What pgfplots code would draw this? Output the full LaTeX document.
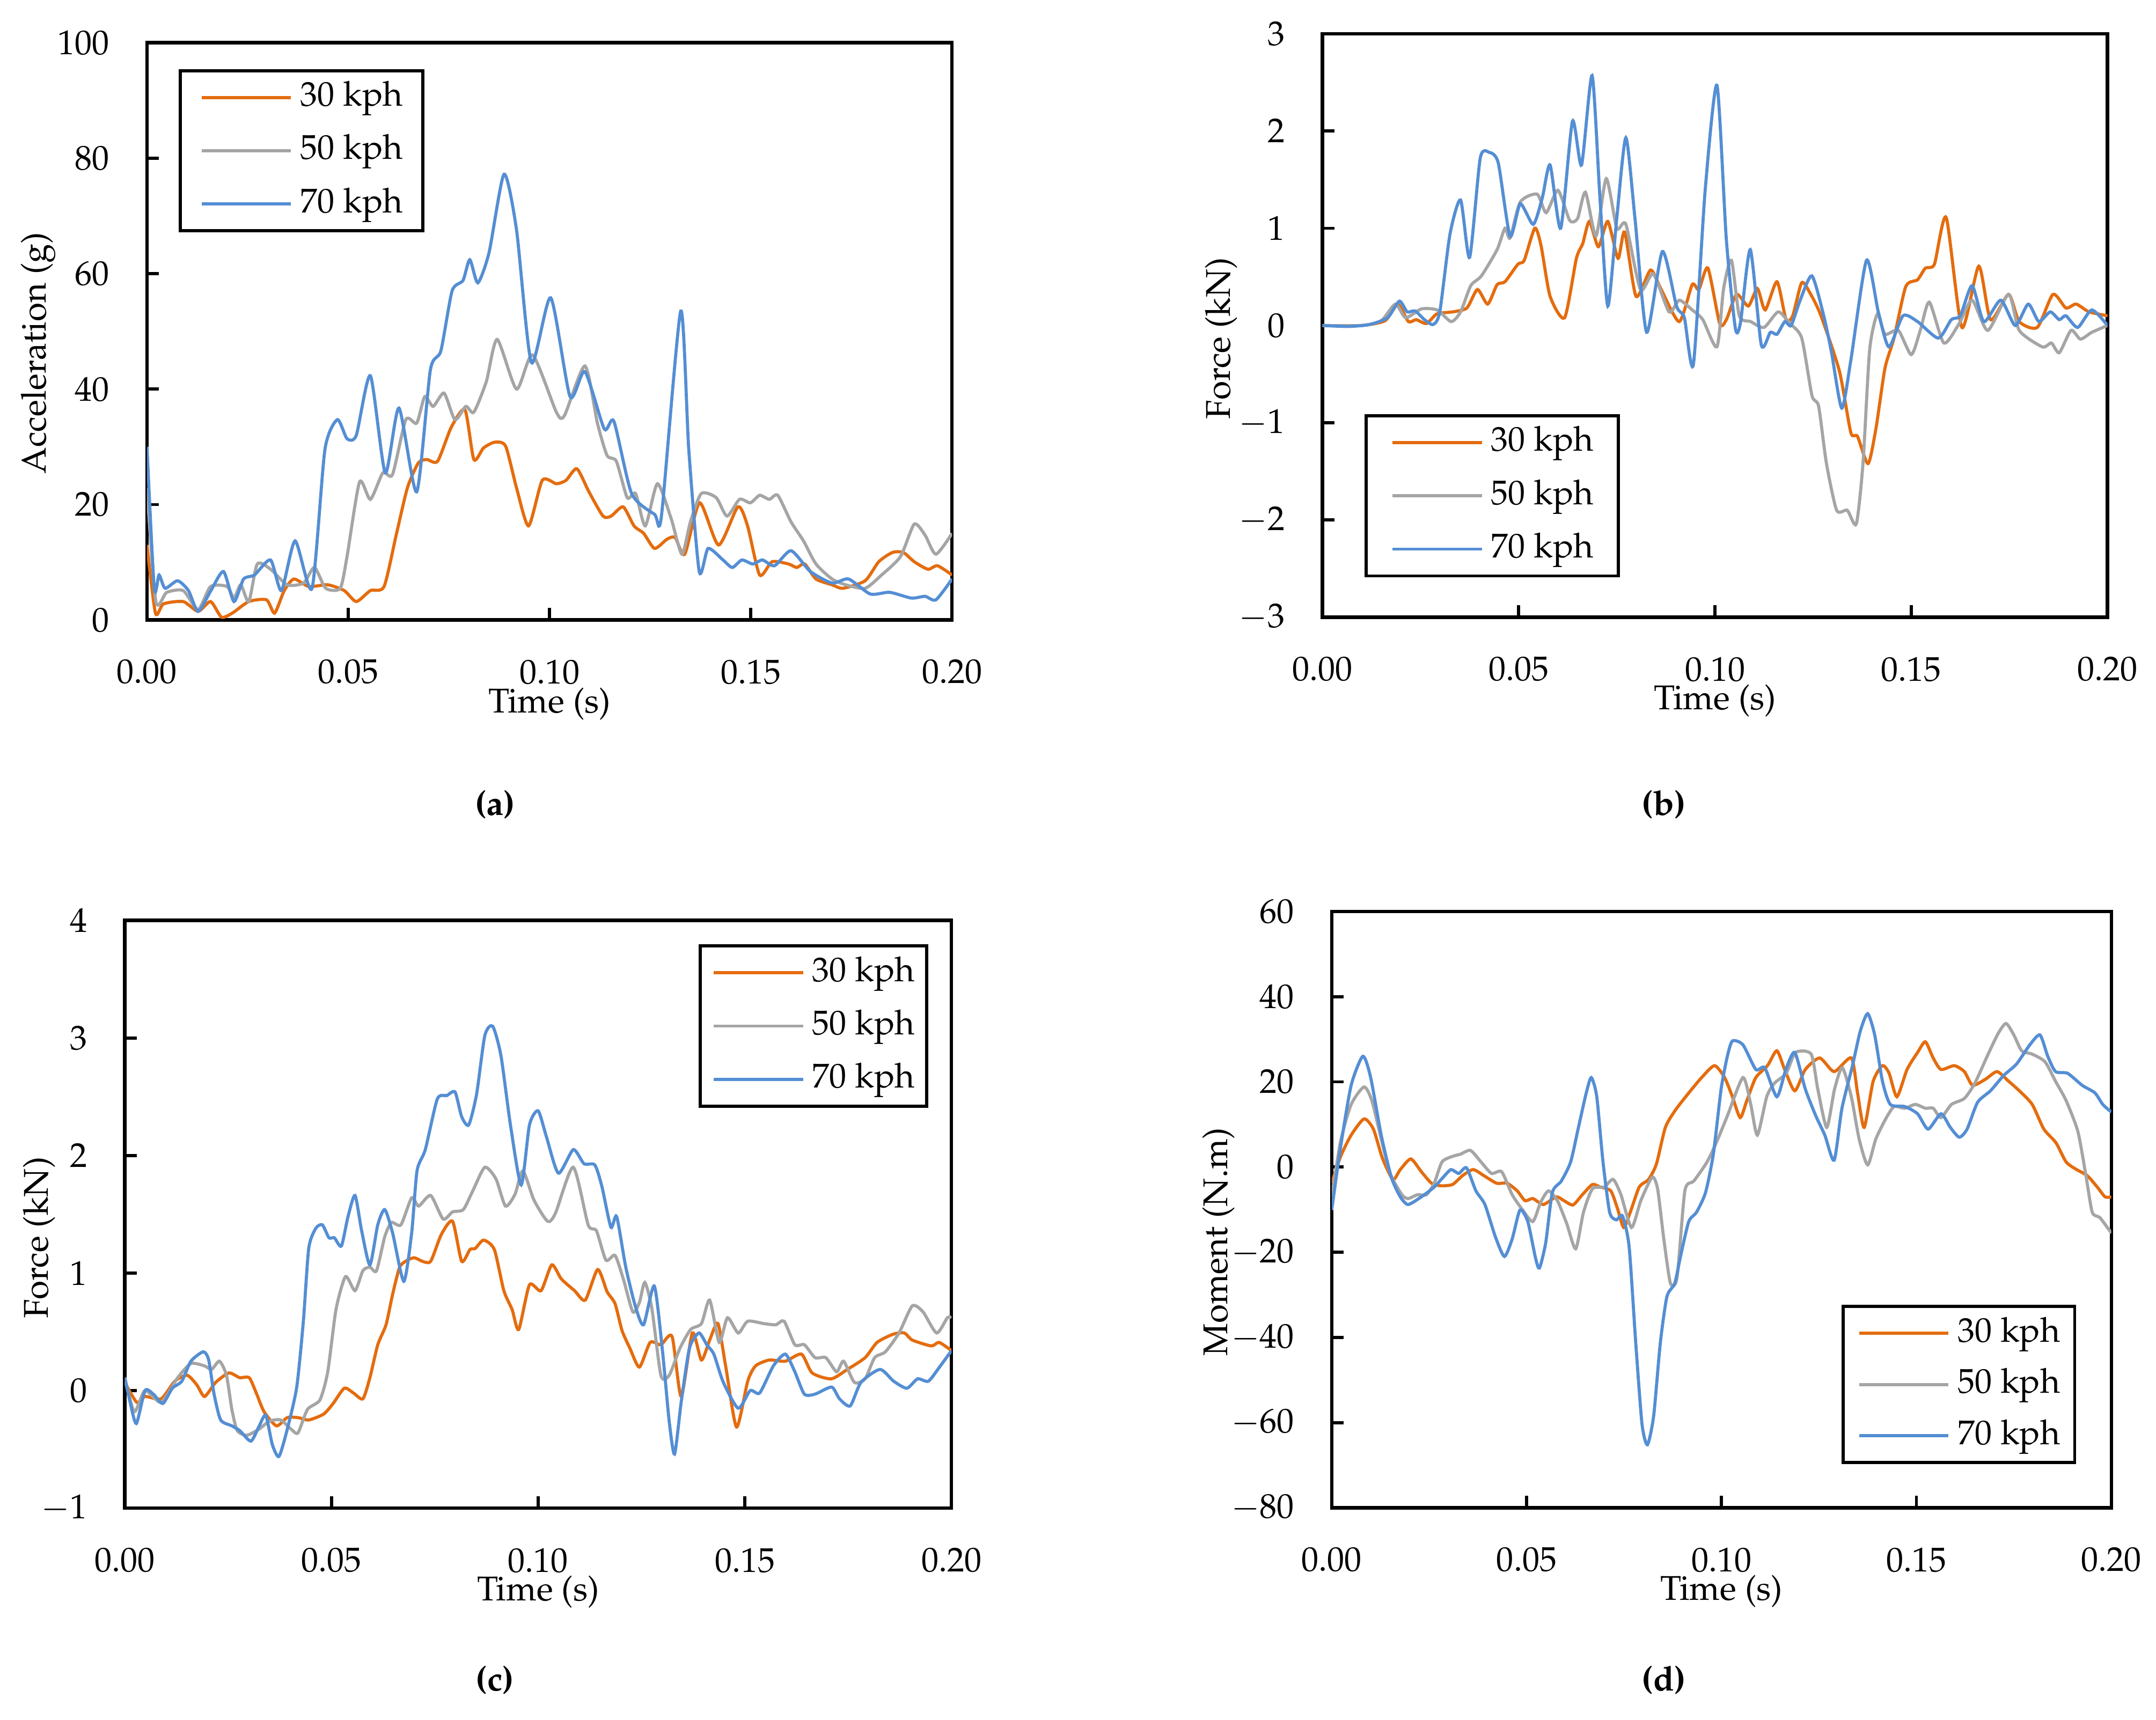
\documentclass[border=0pt]{standalone}
\usepackage[T1]{fontenc}
\usepackage{mathpazo}
\usepackage{pgfplots}
\pgfplotsset{compat=1.18}
\definecolor{c30}{RGB}{228,108,14}
\definecolor{c50}{RGB}{165,165,165}
\definecolor{c70}{RGB}{84,142,212}

\pgfplotstableread{
t v
0 13
0.0021 1.2
0.0041 2.8
0.009 3.2
0.0127 1.5
0.0158 3.2
0.0185 0.5
0.0212 1.2
0.0253 3.2
0.0297 3.5
0.0317 1.2
0.0341 5.1
0.0365 7.1
0.0402 5.8
0.0449 6.1
0.049 5.1
0.052 3.2
0.0555 5.1
0.0589 5.8
0.062 15
0.0647 22.9
0.0674 27.2
0.0695 27.8
0.0722 27.5
0.0756 33.4
0.079 36.4
0.0812 27.8
0.0836 29.8
0.0864 30.8
0.0891 30.1
0.0918 22.9
0.0948 16.3
0.0982 24.2
0.1017 23.6
0.1041 24.2
0.1068 26.2
0.1098 22.2
0.1133 18
0.1153 18
0.1183 19.6
0.121 16.3
0.1234 15
0.1261 12.4
0.1292 14
0.1312 14.3
0.1336 11.4
0.1373 20.3
0.142 13
0.1468 19.6
0.1492 16.3
0.1522 7.8
0.1553 10.1
0.1594 9.7
0.1614 9.1
0.1634 9.7
0.1662 7.1
0.1702 6.1
0.1729 5.5
0.1784 6.8
0.1818 10.1
0.1852 11.7
0.1879 11.7
0.1906 10.1
0.194 8.8
0.1964 9.4
0.2 7.8
}\aA
\pgfplotstableread{
t v
0 22.9
0.0022 3.2
0.0049 4.8
0.009 5.1
0.0127 1.8
0.0158 5.8
0.0199 5.8
0.0216 3.8
0.0233 6.1
0.0253 3.2
0.0274 9.7
0.0307 8.8
0.0348 6.1
0.0389 6.4
0.0416 9.1
0.0444 5.5
0.048 5.5
0.0497 11
0.0528 23.9
0.0555 20.9
0.0586 25.5
0.061 25.2
0.0643 34.7
0.067 34.1
0.069 38.7
0.0711 37
0.0738 39.3
0.0765 34.7
0.0792 37
0.0812 36
0.0843 41.3
0.087 48.6
0.0918 40
0.0958 45.9
0.1017 36
0.1037 35.4
0.1088 44
0.1119 34.1
0.1143 28.5
0.1166 27.5
0.1193 21.2
0.1214 21.9
0.1238 16.3
0.1268 23.6
0.1302 17.6
0.1329 11.4
0.135 17
0.1377 21.9
0.1414 21.2
0.1441 18
0.1472 20.9
0.1499 20.3
0.1522 21.6
0.1546 20.9
0.1567 21.6
0.16 17
0.1631 13.7
0.1662 9.7
0.1702 7.1
0.1736 6.1
0.1784 5.5
0.1825 7.8
0.1872 11
0.1906 16.6
0.1933 14.7
0.196 11.4
0.2 15
}\aB
\pgfplotstableread{
t v
0 30
0.0018 5.5
0.003 7.8
0.0045 5.5
0.0076 6.8
0.0103 5.1
0.0127 1.5
0.0158 5
0.019 8.4
0.0216 3.2
0.024 7.1
0.0267 7.8
0.0307 10.4
0.0334 5.1
0.0368 13.7
0.041 5.5
0.0442 29.5
0.0473 34.7
0.0497 31.4
0.052 32
0.0555 42.3
0.0592 25.5
0.0626 36.7
0.067 22.2
0.0704 43.3
0.073 46.6
0.0758 57
0.0785 58.8
0.0802 62.4
0.0822 58.4
0.085 63.7
0.0887 77.2
0.0918 67.6
0.0955 44.6
0.1003 55.8
0.1051 38.7
0.1088 43
0.1136 33.1
0.116 34.4
0.1204 21.9
0.1261 18.3
0.1278 18
0.1326 53.5
0.1346 29.5
0.1372 8.4
0.1394 12.4
0.1431 10.4
0.1454 9.1
0.1478 10.4
0.1505 9.7
0.1529 10.4
0.1559 9.4
0.16 12
0.1648 8.4
0.1702 6.4
0.1743 7.1
0.1797 4.5
0.1845 4.8
0.1899 3.8
0.1933 4.1
0.196 3.5
0.2 7.1
}\aC

\pgfplotstableread{
t v
0 0
0.01 0
0.016 0.05
0.0192 0.22
0.0219 0.04
0.0239 0.06
0.0265 0.02
0.0292 0.12
0.0332 0.14
0.0368 0.18
0.0395 0.37
0.0421 0.22
0.0445 0.42
0.0465 0.45
0.0498 0.63
0.0514 0.67
0.0541 1.0
0.0557 0.82
0.058 0.3
0.0617 0.08
0.0647 0.69
0.0663 0.84
0.068 1.07
0.0703 0.81
0.0727 1.07
0.0753 0.69
0.077 0.96
0.0799 0.3
0.0836 0.57
0.0863 0.37
0.0909 0.04
0.0942 0.42
0.0959 0.37
0.0982 0.59
0.1012 0.02
0.1029 0.06
0.1055 0.32
0.1085 0.2
0.1108 0.38
0.1128 0.16
0.1158 0.45
0.1181 0.06
0.1198 0.1
0.1221 0.44
0.1244 0.32
0.127 0.1
0.1317 -0.47
0.1346 -1.1
0.1363 -1.14
0.139 -1.42
0.141 -1.06
0.1433 -0.44
0.1456 -0.13
0.1486 0.4
0.1516 0.47
0.1536 0.59
0.1559 0.63
0.1589 1.11
0.1629 -0.02
0.1672 0.61
0.1702 0.06
0.1748 0.32
0.1775 0.04
0.1821 -0.02
0.1861 0.32
0.1894 0.18
0.192 0.22
0.1953 0.14
0.2 0.1
}\bA
\pgfplotstableread{
t v
0 0
0.01 0
0.015 0.05
0.0186 0.22
0.0212 0.08
0.0252 0.17
0.0292 0.16
0.0328 0.04
0.0352 0.14
0.0378 0.41
0.0405 0.51
0.0445 0.78
0.0465 1.0
0.0478 0.9
0.0504 1.27
0.0547 1.35
0.057 1.16
0.06 1.39
0.063 1.08
0.065 1.1
0.067 1.37
0.0697 0.92
0.0723 1.51
0.075 1.0
0.0773 1.04
0.081 0.37
0.0843 0.53
0.0883 0.14
0.0909 0.26
0.0942 0.16
0.0969 0.06
0.1005 -0.22
0.1022 0.38
0.1042 0.67
0.1062 0.1
0.1091 0.04
0.1125 -0.02
0.1161 0.14
0.1191 0.02
0.1221 -0.13
0.1247 -0.72
0.1264 -0.83
0.1284 -1.42
0.131 -1.9
0.1337 -1.9
0.136 -2.04
0.1377 -1.42
0.1394 -0.25
0.1414 0.12
0.1433 -0.09
0.1467 -0.05
0.15 -0.3
0.1523 -0.05
0.1546 0.24
0.1583 -0.18
0.1622 0.02
0.1655 0.26
0.1695 -0.05
0.1748 0.32
0.1775 -0.05
0.1834 -0.22
0.1857 -0.18
0.1877 -0.28
0.1907 -0.05
0.1931 -0.14
0.196 -0.07
0.2 0
}\bB
\pgfplotstableread{
t v
0 0
0.0066 -0.01
0.012 0.01
0.0166 0.08
0.0196 0.25
0.0216 0.14
0.0236 0.15
0.026 0.06
0.0282 0.01
0.0299 0.14
0.0325 0.94
0.0352 1.29
0.0375 0.7
0.0402 1.72
0.0425 1.78
0.0448 1.67
0.0478 0.92
0.0504 1.25
0.0537 1.04
0.056 1.31
0.058 1.65
0.0607 1.0
0.0637 2.1
0.066 1.65
0.0687 2.57
0.0707 1.31
0.0727 0.2
0.075 1.11
0.0773 1.93
0.0796 1.11
0.0826 -0.07
0.0866 0.76
0.0902 0.2
0.0922 0.08
0.0945 -0.4
0.0975 1.39
0.1005 2.47
0.1029 0.88
0.1052 -0.03
0.1065 0.03
0.109 0.78
0.1118 -0.2
0.1141 -0.07
0.1158 -0.09
0.1178 0.04
0.1194 0
0.1217 0.26
0.1247 0.51
0.1277 0.1
0.1297 -0.28
0.1323 -0.85
0.1346 -0.36
0.1386 0.67
0.1416 0.14
0.1443 -0.22
0.1479 0.1
0.1516 0.04
0.1569 -0.13
0.1602 0.06
0.1625 0.1
0.1655 0.41
0.1685 0.04
0.1728 0.26
0.1765 0
0.1798 0.22
0.1825 0.04
0.1854 0.14
0.1877 0.06
0.1894 0.1
0.1924 -0.02
0.196 0.16
0.2 0
}\bC

\pgfplotstableread{
t v
0 0.07
0.0029 -0.1
0.0049 -0.05
0.0088 -0.07
0.0121 0.08
0.0151 0.13
0.0174 0.05
0.0193 -0.05
0.022 0.07
0.0252 0.15
0.0278 0.11
0.0301 0.11
0.0318 -0.02
0.0337 -0.18
0.0367 -0.3
0.0393 -0.23
0.0419 -0.23
0.0445 -0.25
0.0481 -0.2
0.0504 -0.11
0.0531 0.02
0.0553 -0.02
0.0576 -0.07
0.0593 0.11
0.0612 0.39
0.0632 0.56
0.0648 0.82
0.0665 1.05
0.0684 1.11
0.0701 1.13
0.072 1.1
0.074 1.1
0.0766 1.33
0.0793 1.44
0.0815 1.1
0.0835 1.2
0.0848 1.21
0.0868 1.28
0.0894 1.2
0.0917 0.85
0.0937 0.69
0.0953 0.52
0.0979 0.9
0.1007 0.85
0.1033 1.07
0.1056 0.95
0.1088 0.85
0.1114 0.77
0.1144 1.03
0.1167 0.84
0.1186 0.74
0.1203 0.51
0.1222 0.36
0.1245 0.2
0.1271 0.41
0.1297 0.39
0.1324 0.46
0.1346 -0.05
0.1373 0.49
0.1395 0.26
0.1415 0.43
0.1435 0.57
0.1454 0.2
0.148 -0.31
0.1507 0.08
0.1526 0.21
0.1559 0.26
0.1598 0.25
0.1637 0.31
0.1663 0.15
0.1709 0.1
0.1748 0.18
0.1791 0.28
0.182 0.41
0.1859 0.48
0.1886 0.49
0.1905 0.43
0.1951 0.38
0.197 0.41
0.2 0.34
}\cA
\pgfplotstableread{
t v
0 0.11
0.0023 -0.18
0.0049 0
0.0088 -0.1
0.0128 0.11
0.016 0.23
0.0193 0.21
0.021 0.18
0.0229 0.25
0.0246 0.13
0.0259 -0.16
0.0272 -0.34
0.0295 -0.38
0.0324 -0.33
0.035 -0.26
0.0377 -0.25
0.0403 -0.33
0.0419 -0.36
0.0442 -0.16
0.0472 -0.08
0.0491 0.16
0.0511 0.69
0.0534 0.97
0.0557 0.85
0.0576 1.02
0.0593 1.05
0.0609 1.02
0.0629 1.31
0.0645 1.43
0.0668 1.41
0.0694 1.64
0.0711 1.57
0.074 1.66
0.077 1.46
0.0793 1.52
0.0819 1.54
0.0842 1.7
0.0871 1.9
0.0898 1.8
0.0921 1.57
0.0944 1.67
0.0963 1.87
0.099 1.62
0.1023 1.44
0.1042 1.51
0.1085 1.9
0.1121 1.41
0.1141 1.36
0.1164 1.11
0.1186 1.15
0.1206 0.95
0.1229 0.67
0.1245 0.75
0.1258 0.92
0.1275 0.7
0.1297 0.13
0.1317 0.13
0.1343 0.36
0.1369 0.52
0.1395 0.57
0.1415 0.77
0.1438 0.41
0.1458 0.62
0.1484 0.49
0.1507 0.59
0.1546 0.57
0.1575 0.56
0.1595 0.59
0.1621 0.39
0.1644 0.39
0.167 0.28
0.1696 0.28
0.1722 0.16
0.1739 0.25
0.1765 0.07
0.1791 0.1
0.1814 0.28
0.184 0.33
0.1873 0.49
0.1905 0.72
0.1931 0.67
0.1964 0.49
0.199 0.62
0.2 0.62
}\cB
\pgfplotstableread{
t v
0 0.11
0.0013 -0.1
0.0028 -0.28
0.0049 0
0.0069 -0.03
0.0092 -0.11
0.0115 0.02
0.0138 0.08
0.016 0.25
0.019 0.33
0.0203 0.26
0.0216 -0.03
0.0232 -0.25
0.0259 -0.3
0.0278 -0.34
0.0305 -0.43
0.0324 -0.31
0.0341 -0.21
0.0357 -0.46
0.0373 -0.56
0.0393 -0.33
0.0416 0.03
0.0432 0.59
0.0445 1.21
0.0462 1.38
0.0478 1.41
0.0494 1.3
0.0507 1.3
0.0524 1.23
0.054 1.48
0.0557 1.66
0.0573 1.36
0.0593 1.07
0.0612 1.41
0.0629 1.54
0.0648 1.34
0.0675 0.93
0.0694 1.34
0.0707 1.87
0.0727 2.05
0.0756 2.48
0.0779 2.51
0.0799 2.54
0.0815 2.33
0.0832 2.26
0.0851 2.52
0.0871 3.02
0.089 3.1
0.091 2.85
0.0933 2.26
0.0959 1.75
0.0979 2.26
0.1 2.38
0.102 2.16
0.1049 1.85
0.1085 2.05
0.1111 1.93
0.1137 1.92
0.1154 1.74
0.1176 1.39
0.119 1.48
0.1212 1.05
0.1235 0.72
0.1255 0.56
0.1281 0.89
0.1301 0.33
0.1317 -0.26
0.133 -0.54
0.1346 -0.1
0.1366 0.36
0.1389 0.49
0.1408 0.39
0.1425 0.31
0.1448 0.07
0.1484 -0.15
0.1513 0
0.1536 -0.02
0.1569 0.21
0.1598 0.31
0.1621 0.16
0.1644 -0.03
0.167 -0.03
0.171 0.03
0.1729 -0.07
0.1755 -0.13
0.1781 0.07
0.1827 0.18
0.186 0.08
0.1892 0.02
0.1918 0.1
0.1944 0.08
0.1971 0.2
0.2 0.34
}\cC

\pgfplotstableread{
t v
0 -3.8
0.0023 2.5
0.005 7.5
0.0083 11.3
0.0107 8.9
0.013 2.1
0.0157 -2.9
0.0176 -0.6
0.0203 1.9
0.023 -1.1
0.0256 -3.8
0.028 -4.4
0.031 -4.1
0.0336 -2
0.0363 -0.6
0.039 -2
0.0423 -3.8
0.045 -3.8
0.0476 -5.6
0.0496 -7.9
0.0516 -7.4
0.0543 -8.8
0.0576 -7
0.0596 -7.9
0.0619 -8.9
0.0643 -6.5
0.0669 -4.1
0.0689 -4.7
0.0716 -5.6
0.0733 -9.7
0.0749 -14.2
0.0766 -10.6
0.0789 -4.7
0.0813 -2.9
0.0833 0.7
0.0856 9.3
0.0882 13.4
0.0916 17.4
0.0949 21
0.0982 23.8
0.1008 21
0.1028 16.5
0.1048 11.6
0.1065 15.6
0.1088 21
0.1118 23.8
0.1142 27.3
0.1162 22.9
0.1188 17.9
0.1215 22.9
0.1252 25.6
0.1289 22.4
0.1333 25.6
0.1349 17.4
0.1366 9.3
0.1389 20.1
0.1413 23.8
0.143 22
0.145 16.5
0.1476 22.9
0.1503 26.9
0.1523 29.4
0.1543 25.6
0.1563 22.9
0.1597 23.8
0.1623 22.4
0.1644 19.2
0.1677 20.6
0.1707 22.4
0.1737 20.1
0.1764 17.9
0.1797 14.7
0.1827 8.9
0.1858 5.7
0.1884 1.2
0.1911 -0.6
0.1938 -2
0.1964 -4.7
0.1984 -7
0.2 -7
}\dA
\pgfplotstableread{
t v
0 -7
0.0023 6.1
0.005 14.7
0.0083 18.8
0.0103 15.6
0.0127 6.6
0.015 -1.5
0.018 -6.5
0.0196 -7.4
0.022 -6.5
0.0243 -6.5
0.0263 -3.8
0.0283 1.2
0.031 2.5
0.033 3
0.0356 3.9
0.0383 1.2
0.041 -1.5
0.0436 -1.1
0.0463 -6.5
0.049 -10.1
0.0516 -12.8
0.0536 -8.3
0.0556 -5.6
0.0579 -7.9
0.0603 -13.3
0.0626 -19.2
0.0646 -10.6
0.0669 -5.1
0.0699 -4.7
0.0722 -2.9
0.0742 -6.5
0.0769 -14.2
0.0793 -7.9
0.0822 -2.4
0.0836 -5.1
0.0852 -16.9
0.0869 -27.3
0.0886 -25.9
0.0906 -5.6
0.0929 -3.3
0.0963 1.2
0.0988 6
0.1015 12
0.1055 21
0.1075 14.7
0.1092 7.5
0.1116 16.5
0.1136 19.7
0.1166 22
0.119 26.9
0.123 26.5
0.1247 18.3
0.127 9.3
0.129 18.3
0.131 23.3
0.1333 16.5
0.1353 6.6
0.1375 0.5
0.1396 6.6
0.1423 11.6
0.1443 14.2
0.147 13.8
0.1497 14.7
0.1523 13.8
0.1543 13.8
0.1563 11.6
0.159 14.7
0.1623 16.1
0.165 19.7
0.1684 26.5
0.171 31.4
0.173 33.7
0.175 31
0.177 27.3
0.1797 26.5
0.183 24.7
0.1857 20.1
0.1884 15.6
0.1914 8.4
0.1934 -1.5
0.1951 -10.6
0.1971 -11.9
0.2 -15.5
}\dB
\pgfplotstableread{
t v
0 -10.1
0.0023 4.8
0.005 19.2
0.008 26
0.01 21
0.0127 7.5
0.0153 -2.4
0.0176 -7
0.0196 -8.8
0.023 -7
0.0263 -4.7
0.0286 -2.4
0.0306 -0.6
0.0326 -1.5
0.0346 -0.2
0.037 -5.6
0.0393 -8.8
0.042 -16.4
0.0443 -21
0.0463 -16.9
0.0483 -10.1
0.0503 -12.8
0.0523 -21.4
0.0533 -23.7
0.0549 -17.8
0.0566 -6
0.0589 -3.3
0.0613 1.2
0.0633 9.3
0.0653 17.4
0.0666 21
0.068 16.5
0.0696 1.2
0.0713 -10.6
0.073 -12.4
0.0746 -11.5
0.0763 -18.7
0.078 -41.3
0.0796 -60.3
0.081 -65.2
0.0826 -58.4
0.0843 -41.3
0.086 -30.4
0.088 -27.3
0.0896 -20.5
0.0916 -12.8
0.0936 -10.6
0.0959 -6
0.0979 3
0.0999 18.3
0.1015 26
0.1028 29.6
0.1055 28.7
0.1088 22.9
0.1111 23.3
0.1142 16.5
0.1165 22.9
0.1188 26.9
0.1215 18.3
0.1242 12
0.1265 7.5
0.1289 1.6
0.1309 13.8
0.1336 23.8
0.1356 31.9
0.1375 36
0.1393 31
0.1413 20.1
0.1433 14.7
0.147 14.2
0.1503 12.5
0.153 8.9
0.1563 12.5
0.1587 9.3
0.161 7
0.163 8.9
0.1657 15.2
0.169 17.9
0.1724 21.5
0.1757 24.2
0.1791 28.7
0.1817 31
0.1837 26
0.1857 22.4
0.1888 22
0.1925 19.2
0.1958 17.4
0.1978 14.7
0.2 12.9
}\dC

\pgfplotsset{
  panel/.style={
    scale only axis,
    anchor=south west,
    xmin=0, xmax=0.2,
    xtick={0,0.05,0.1,0.15,0.2},
    axis line style={line width=1pt},
    tick align=inside,
    xtick pos=bottom,
    ytick pos=left,
    major tick length=3.5pt,
    every tick/.style={black, line width=0.9pt},
    tick label style={font=\fontsize{10}{12}\selectfont},
    label style={font=\fontsize{10}{12}\selectfont},
    scaled x ticks=false,
    xticklabel style={/pgf/number format/fixed, /pgf/number format/fixed zerofill, /pgf/number format/precision=2, yshift=-8.1pt},
    yticklabel style={xshift=-7.4pt},
    xlabel={Time (s)},
    xlabel style={at={(axis description cs:0.5,0)}, anchor=base, yshift=-26.9pt},
    legend cell align=left,
    legend image code/.code={\draw[#1] (0pt,0pt) -- (26pt,0pt);},
    legend style={draw=black, line width=0.9pt, fill=white,
      font=\fontsize{10}{12}\selectfont, inner ysep=3.3pt, row sep=6.5pt,
      /tikz/column sep=2.2pt,
      nodes={inner sep=0pt, text height=7pt, text depth=2pt}},
    every axis plot/.append style={line width=0.9pt, smooth, tension=0.4},
  },
}

\begin{document}
\begin{tikzpicture}
\useasboundingbox (0,0) rectangle (627.2pt,-500.4pt);

% (a)
\begin{axis}[panel, at={(42.76pt,-180.4pt)}, width=234.2pt, height=168.0pt,
  ymin=0, ymax=100, ytick={0,20,40,60,80,100},
  ylabel={Acceleration (g)},
  ylabel style={at={(axis description cs:-0.1255,0.462)}, anchor=base},
  legend style={at={(rel axis cs:0,1)}, anchor=north west, xshift=9.2pt, yshift=-7.7pt, inner xsep=5.8pt}]
\addplot[c30] table[x=t,y=v]{\aA};
\addplot[c50] table[x=t,y=v]{\aB};
\addplot[c70] table[x=t,y=v]{\aC};
\legend{30 kph,50 kph,70 kph}
\end{axis}

% (b)
\begin{axis}[panel, at={(384.7pt,-179.6pt)}, width=228.4pt, height=169.8pt,
  ymin=-3, ymax=3, ytick={-3,-2,-1,0,1,2,3},
  ylabel={Force (kN)},
  ylabel style={at={(axis description cs:-0.1173,0.478)}, anchor=base},
  legend style={at={(rel axis cs:0,1)}, anchor=north west, xshift=12.3pt, yshift=-110.7pt, inner xsep=7.2pt}]
\addplot[c30] table[x=t,y=v]{\bA};
\addplot[c50] table[x=t,y=v]{\bB};
\addplot[c70] table[x=t,y=v]{\bC};
\legend{30 kph,50 kph,70 kph}
\end{axis}

% (c)
\begin{axis}[panel, at={(36.3pt,-438.8pt)}, width=240.5pt, height=171.0pt,
  ymin=-1, ymax=4, ytick={-1,0,1,2,3,4},
  ylabel={Force (kN)},
  ylabel style={at={(axis description cs:-0.0931,0.46)}, anchor=base},
  legend style={at={(rel axis cs:1,1)}, anchor=north east, xshift=-6.8pt, yshift=-7pt, inner xsep=3.4pt}]
\addplot[c30] table[x=t,y=v]{\cA};
\addplot[c50] table[x=t,y=v]{\cB};
\addplot[c70] table[x=t,y=v]{\cC};
\legend{30 kph,50 kph,70 kph}
\end{axis}

% (d)
\begin{axis}[panel, at={(387.4pt,-438.7pt)}, width=226.8pt, height=173.5pt,
  ymin=-80, ymax=60, ytick={-80,-60,-40,-20,0,20,40,60},
  ylabel={Moment (N.m)},
  ylabel style={at={(axis description cs:-0.134,0.446)}, anchor=base},
  legend style={at={(rel axis cs:1,1)}, anchor=north east, xshift=-10.2pt, yshift=-114.5pt, inner xsep=4.2pt, row sep=5.9pt}]
\addplot[c30] table[x=t,y=v]{\dA};
\addplot[c50] table[x=t,y=v]{\dB};
\addplot[c70] table[x=t,y=v]{\dC};
\legend{30 kph,50 kph,70 kph}
\end{axis}

\node[font=\bfseries\fontsize{10}{12}\selectfont, anchor=base] at (144pt,-237.2pt) {(a)};
\node[font=\bfseries\fontsize{10}{12}\selectfont, anchor=base] at (484pt,-237.2pt) {(b)};
\node[font=\bfseries\fontsize{10}{12}\selectfont, anchor=base] at (144pt,-492pt) {(c)};
\node[font=\bfseries\fontsize{10}{12}\selectfont, anchor=base] at (484pt,-492pt) {(d)};
\end{tikzpicture}
\end{document}
